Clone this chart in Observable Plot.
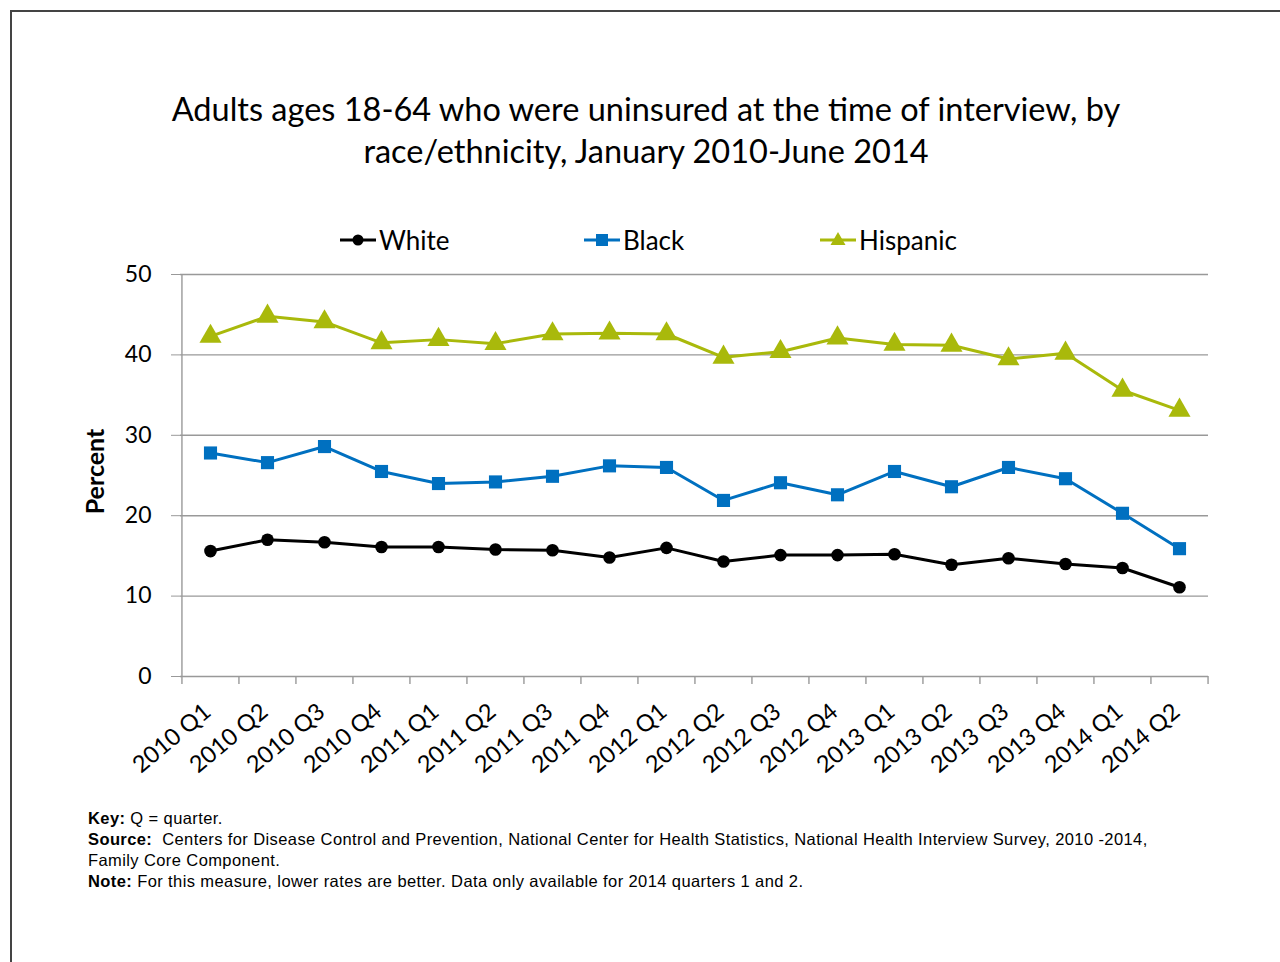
<!DOCTYPE html>
<html>
<head>
<meta charset="utf-8">
<script src="https://cdn.jsdelivr.net/npm/d3@7"></script>
<script src="https://cdn.jsdelivr.net/npm/@observablehq/plot@0.6"></script>
<style>
  html, body { margin: 0; padding: 0; background: #fff; }
  #page { position: relative; width: 1280px; height: 962px; overflow: hidden; background: #fff; }
  #frame { position: absolute; left: 10px; top: 10px; width: 1300px; height: 1000px; border-left: 2px solid #444; border-top: 2px solid #444; }
  #title { position: absolute; left: 0; width: 1292px; top: 88px; text-align: center; font-family: Lato, sans-serif; font-size: 32.5px; line-height: 42px; color: #000; }
  #legend { position: absolute; top: 224px; left: 0; font-family: Lato, sans-serif; font-size: 26px; color: #000; }
  .lg { position: absolute; display: flex; align-items: center; white-space: nowrap; height: 32px; }
  .lg svg { margin-right: 2px; }
  #chart { position: absolute; left: 0; top: 260px; }
  #notes { position: absolute; left: 88px; top: 808px; font-family: "Liberation Sans", Arial, sans-serif; font-size: 16.5px; letter-spacing: 0.4px; line-height: 21px; color: #000; white-space: nowrap; }
</style>
</head>
<body>
<div id="page">
  <div id="frame"></div>
  <div id="title">Adults ages 18-64 who were uninsured at the time of interview, by<br>race/ethnicity, January 2010-June 2014</div>
  <div id="legend"></div>
  <div id="chart"></div>
  <div id="notes">
    <div><b>Key:</b> Q = quarter.</div>
    <div><b>Source:</b>&nbsp; Centers for Disease Control and Prevention, National Center for Health Statistics, National Health Interview Survey, 2010 -2014,</div>
    <div>Family Core Component.</div>
    <div><b>Note:</b> For this measure, lower rates are better. Data only available for 2014 quarters 1 and 2.</div>
  </div>
</div>
<script>
const quarters = ["2010 Q1","2010 Q2","2010 Q3","2010 Q4","2011 Q1","2011 Q2","2011 Q3","2011 Q4",
  "2012 Q1","2012 Q2","2012 Q3","2012 Q4","2013 Q1","2013 Q2","2013 Q3","2013 Q4","2014 Q1","2014 Q2"];
const white    = [15.6, 17.0, 16.7, 16.1, 16.1, 15.8, 15.7, 14.8, 16.0, 14.3, 15.1, 15.1, 15.2, 13.9, 14.7, 14.0, 13.5, 11.1];
const black    = [27.8, 26.6, 28.6, 25.5, 24.0, 24.2, 24.9, 26.2, 26.0, 21.9, 24.1, 22.6, 25.5, 23.6, 26.0, 24.6, 20.3, 15.9];
const hispanic = [42.3, 44.8, 44.1, 41.5, 41.9, 41.4, 42.6, 42.7, 42.6, 39.7, 40.4, 42.1, 41.3, 41.2, 39.5, 40.2, 35.6, 33.1];
const seriesNames = ["White", "Black", "Hispanic"];
const seriesColors = ["#000000", "#0070C0", "#A9B90B"];
const seriesSymbols = ["circle", "square", "triangle"];
const yTicks = [0, 10, 20, 30, 40, 50];

const data = [];
[white, black, hispanic].forEach((vals, s) => {
  vals.forEach((v, i) => data.push({quarter: quarters[i], value: v, series: seriesNames[s]}));
});

const W = 1280, mL = 180, mR = 72;
const half = (W - mL - mR) / quarters.length / 2;
const symR = {circle: 6.3, square: 7.4, triangle: 8.2};

const marks = [
  Plot.gridY(yTicks.filter(d => d > 0), {stroke: "#999", strokeOpacity: 1, strokeWidth: 1.4}),
  Plot.ruleY([0], {stroke: "#999", strokeWidth: 1.4}),
  Plot.ruleX([quarters[0]], {dx: -half, y1: 0, y2: 50, stroke: "#999", strokeWidth: 1.4}),
  Plot.ruleX(quarters, {dx: -half, y1: 0, y2: 0, insetBottom: -8, stroke: "#999", strokeWidth: 1.4}),
  Plot.ruleX([quarters[quarters.length - 1]], {dx: half, y1: 0, y2: 0, insetBottom: -8, stroke: "#999", strokeWidth: 1.4}),
  Plot.axisY(yTicks, {tickSize: 9, tickPadding: 20, stroke: "#999", fill: "#000", label: null, fontSize: 23}),
  Plot.axisX(quarters, {tickSize: 0, tickPadding: 32, tickRotate: -40, label: null, fontSize: 23.5, fill: "#000", dx: -3}),
  Plot.text(["Percent"], {frameAnchor: "left", textAnchor: "middle", y: () => 25.5, text: d => d, rotate: -90, dx: -85, fontWeight: "bold", fontSize: 25, fill: "#000"})
];
seriesNames.forEach((name, s) => {
  const sub = data.filter(d => d.series === name);
  marks.push(Plot.line(sub, {x: "quarter", y: "value", stroke: seriesColors[s], strokeWidth: 3}));
  marks.push(Plot.dot(sub, {x: "quarter", y: "value", fill: seriesColors[s], stroke: "none", symbol: seriesSymbols[s], r: symR[seriesSymbols[s]]}));
});

const chart = Plot.plot({
  width: W,
  height: 526,
  marginLeft: mL,
  marginRight: mR,
  marginTop: 14,
  marginBottom: 110,
  style: {fontFamily: "Lato, sans-serif", fontSize: "22px", background: "transparent", color: "#000", overflow: "visible"},
  x: {type: "point", domain: quarters, padding: 0.5},
  y: {domain: [0, 50]},
  marks
});
document.getElementById("chart").appendChild(chart);

// Legend
const legendPos = [340, 584, 820];
const legend = document.getElementById("legend");
seriesNames.forEach((name, s) => {
  const item = document.createElement("div");
  item.className = "lg";
  item.style.left = legendPos[s] + "px";
  let sym;
  if (seriesSymbols[s] === "circle") sym = `<circle cx="18" cy="16" r="5.5" fill="${seriesColors[s]}"/>`;
  else if (seriesSymbols[s] === "square") sym = `<rect x="12" y="10" width="12" height="12" fill="${seriesColors[s]}"/>`;
  else sym = `<path d="M18,8 L25.5,21 L10.5,21 Z" fill="${seriesColors[s]}"/>`;
  item.innerHTML = `<svg width="37" height="32"><line x1="0" x2="36" y1="16" y2="16" stroke="${seriesColors[s]}" stroke-width="3"/>${sym}</svg><span>${name}</span>`;
  legend.appendChild(item);
});
</script>
</body>
</html>
